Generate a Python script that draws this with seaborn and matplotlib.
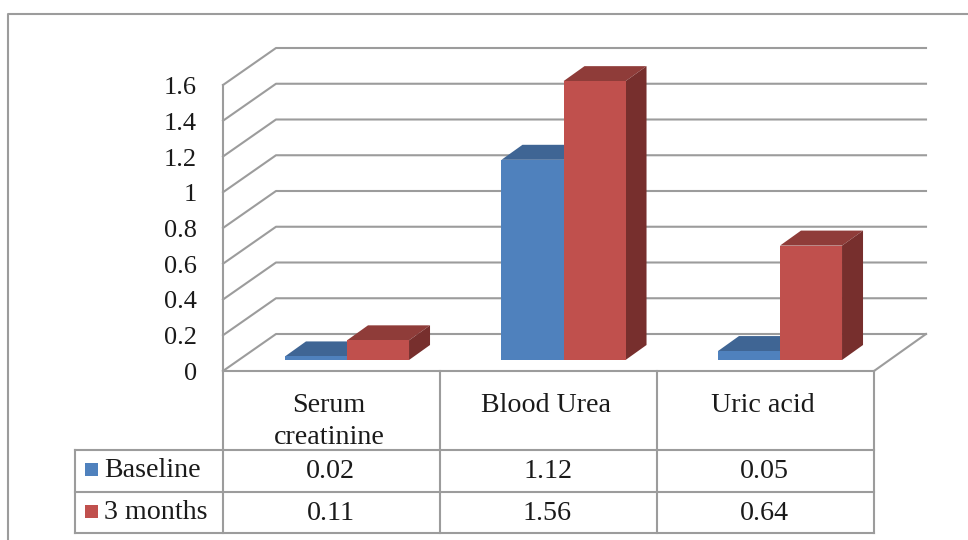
import matplotlib
matplotlib.use("Agg")
import matplotlib.pyplot as plt
from matplotlib.patches import Polygon, Rectangle
import pandas as pd
import seaborn as sns

categories = ["Serum\ncreatinine", "Blood Urea", "Uric acid"]
baseline = [0.02, 1.12, 0.05]
three_months = [0.11, 1.56, 0.64]
series_names = ["Baseline", "3 months"]
y_ticks = [0, 0.2, 0.4, 0.6, 0.8, 1, 1.2, 1.4, 1.6]

BLUE, RED = "#4F81BD", "#C0504D"
BLUE_TOP, RED_TOP = "#3F6594", "#8F3C39"
BLUE_SIDE, RED_SIDE = "#345478", "#772F2D"
GRID = "#9C9C9C"
INK = "#1a1a1a"

sns.set_theme(style="white")
plt.rcParams["font.family"] = ["Liberation Serif", "DejaVu Serif"]
FS = 20.2
FS_TICK = 19

W, H = 968, 540
fig = plt.figure(figsize=(W / 100, H / 100), dpi=100, facecolor="white")

# Pixel-space layer holding the frame, the 3D walls and the data table
bg = fig.add_axes([0, 0, 1, 1])
bg.set_xlim(0, W)
bg.set_ylim(H, 0)
bg.axis("off")


def rule(xs, ys, lw=1.5):
    bg.plot(xs, ys, color=GRID, lw=lw, solid_capstyle="projecting")


# Outer frame, open on the right and at the bottom
rule([8, 8, 968], [540, 14, 14])

# Walls: front plane at x=223, rear plane shifted up and to the right
PX_PER_UNIT = 178.75
Y_ZERO_FRONT = 371
for v in y_ticks:
    yf = Y_ZERO_FRONT - v * PX_PER_UNIT
    rule([223, 276, 926], [yf, yf - 37, yf - 37])
    bg.text(197, yf + 3, f"{v:g}", ha="right", va="center", fontsize=FS_TICK, color=INK)
rule([223, 223], [Y_ZERO_FRONT - 1.6 * PX_PER_UNIT, Y_ZERO_FRONT])
rule([926, 874], [334, 371])

# Data table
col_x = [223, 440, 657, 874]
col_mid = [331.5, 548.5, 765.5]
row_y = [371, 450, 492, 533]
rule([223, 874], [371, 371])
for y in row_y[1:]:
    rule([75, 874], [y, y])
rule([75, 75], [450, 533])
for x in col_x:
    rule([x, x], [371, 533])

for xm, cat in zip(col_mid, categories):
    lines = cat.split("\n")
    for i, line in enumerate(lines):
        bg.text(xm - 2.5, 406 + i * 31, line, ha="center", va="center",
                fontsize=FS, color=INK)

legend_colors = [BLUE, RED]
for name, color, values, yc in zip(series_names, legend_colors,
                                   [baseline, three_months], [469.5, 511.5]):
    bg.add_patch(Rectangle((85, yc - 7), 13, 13, facecolor=color, edgecolor="none"))
    bg.text(104, yc + 1, name, ha="left", va="center", fontsize=FS, color=INK)
    for xm, v in zip(col_mid, values):
        bg.text(xm - 1, yc + 2.5, f"{v:g}", ha="center", va="center", fontsize=FS, color=INK)

# Bars: one category spans 216.5 px, one value unit spans PX_PER_UNIT px
CAT_PX = 216.5
AX_LEFT, AX_BOTTOM_Y, AX_TOP_Y = 347 - CAT_PX / 2, 360, 40
ax = fig.add_axes([AX_LEFT / W, 1 - AX_BOTTOM_Y / H, 3 * CAT_PX / W,
                   (AX_BOTTOM_Y - AX_TOP_Y) / H])
ax.patch.set_alpha(0)

df = pd.DataFrame({
    "category": categories * 2,
    "value": baseline + three_months,
    "series": [series_names[0]] * 3 + [series_names[1]] * 3,
})
sns.barplot(data=df, x="category", y="value", hue="series", hue_order=series_names,
            palette=[BLUE, RED], width=0.573, gap=0, legend=False, saturation=1,
            edgecolor="none", linewidth=0, ax=ax, zorder=3)
ax.set_xlim(-0.5, 2.5)
ax.set_ylim(0, (AX_BOTTOM_Y - AX_TOP_Y) / PX_PER_UNIT)
ax.axis("off")

# Extrude each bar with a top face and a side face
DX, DY = 21 / CAT_PX, 15 / PX_PER_UNIT
for container, top, side in zip(ax.containers, [BLUE_TOP, RED_TOP], [BLUE_SIDE, RED_SIDE]):
    for bar in container:
        x0, x1, h = bar.get_x(), bar.get_x() + bar.get_width(), bar.get_height()
        ax.add_patch(Polygon([(x0, h), (x1, h), (x1 + DX, h + DY), (x0 + DX, h + DY)],
                             closed=True, facecolor=top, edgecolor="none", zorder=2,
                             clip_on=False))
        ax.add_patch(Polygon([(x1, 0), (x1 + DX, DY), (x1 + DX, h + DY), (x1, h)],
                             closed=True, facecolor=side, edgecolor="none", zorder=2,
                             clip_on=False))

fig.savefig("out.png", dpi=100, facecolor="white")
